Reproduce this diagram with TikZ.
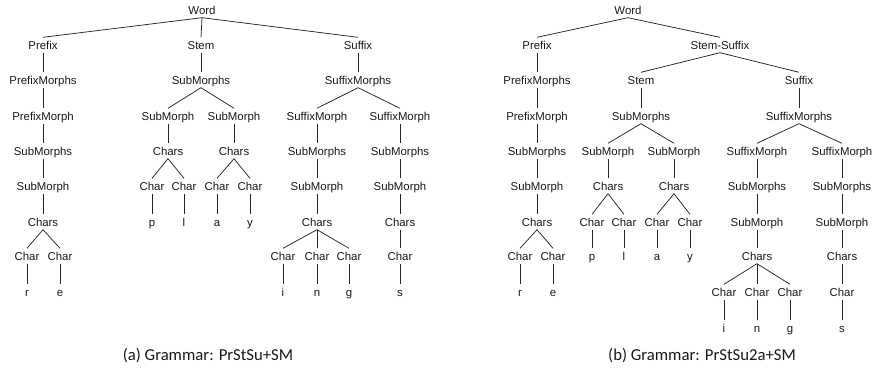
\documentclass[tikz,border=0pt]{standalone}
\usepackage{fontspec}
\setmainfont{Liberation Sans}
\newfontfamily\capfont{Carlito}
\begin{document}
\begin{tikzpicture}[x=1pt,y=-1pt,
  t/.style={font=\fontsize{11.4}{12}\selectfont, text=black!90, inner xsep=0pt, inner ysep=2pt, text height=10pt, text depth=1pt},
  edge/.style={draw=black!85, line width=0.75pt},
  captext/.style={font=\capfont\fontsize{16.7}{18}\selectfont, text=black!90}]
\useasboundingbox (0,0) rectangle (873,383);
\def\La{10}\def\Lb{45}\def\Lc{80}\def\Ld{116}\def\Le{151}\def\Lf{186}\def\Lg{222}\def\Lh{256}\def\Li{292}\def\Lj{328}
% ---------- tree (a)
\node[t] (aW) at (202,\La) {Word};
\node[t] (aPre) at (43,\Lb) {Prefix};
\node[t] (aSt) at (201,\Lb) {Stem};
\node[t] (aSu) at (358,\Lb) {Suffix};
% prefix
\node[t] (aPms) at (43,\Lc) {PrefixMorphs};
\node[t] (aPm) at (43,\Ld) {PrefixMorph};
\node[t] (aPsms) at (43,\Le) {SubMorphs};
\node[t] (aPsm) at (43,\Lf) {SubMorph};
\node[t] (aPcs) at (43,\Lg) {Chars};
\node[t] (aPc1) at (27,\Lh) {Char};
\node[t] (aPc2) at (60,\Lh) {Char};
\node[t] (aR) at (27,\Li) {r};
\node[t] (aE) at (60,\Li) {e};
% stem
\node[t] (aSms) at (201,\Lc) {SubMorphs};
\node[t] (aSm1) at (168,\Ld) {SubMorph};
\node[t] (aSm2) at (234,\Ld) {SubMorph};
\node[t] (aCs1) at (168,\Le) {Chars};
\node[t] (aCs2) at (234,\Le) {Chars};
\node[t] (aC1) at (152,\Lf) {Char};
\node[t] (aC2) at (184,\Lf) {Char};
\node[t] (aC3) at (217,\Lf) {Char};
\node[t] (aC4) at (250,\Lf) {Char};
\node[t] (aP) at (152,\Lg) {p};
\node[t] (aL) at (184,\Lg) {l};
\node[t] (aA) at (217,\Lg) {a};
\node[t] (aY) at (250,\Lg) {y};
% suffix
\node[t] (aSfms) at (358,\Lc) {SuffixMorphs};
\node[t] (aSfm1) at (317,\Ld) {SuffixMorph};
\node[t] (aSfm2) at (400,\Ld) {SuffixMorph};
\node[t] (aSsms1) at (317,\Le) {SubMorphs};
\node[t] (aSsms2) at (400,\Le) {SubMorphs};
\node[t] (aSsm1) at (317,\Lf) {SubMorph};
\node[t] (aSsm2) at (400,\Lf) {SubMorph};
\node[t] (aScs1) at (317,\Lg) {Chars};
\node[t] (aScs2) at (400,\Lg) {Chars};
\node[t] (aSc1) at (283,\Lh) {Char};
\node[t] (aSc2) at (317,\Lh) {Char};
\node[t] (aSc3) at (349,\Lh) {Char};
\node[t] (aSc4) at (400,\Lh) {Char};
\node[t] (aI) at (283,\Li) {i};
\node[t] (aN) at (317,\Li) {n};
\node[t] (aG) at (349,\Li) {g};
\node[t] (aS) at (400,\Li) {s};
\foreach \p/\c in {aW/aPre,aW/aSt,aW/aSu,aPre/aPms,aPms/aPm,aPm/aPsms,aPsms/aPsm,aPsm/aPcs,aPcs/aPc1,aPcs/aPc2,aPc1/aR,aPc2/aE,
  aSt/aSms,aSms/aSm1,aSms/aSm2,aSm1/aCs1,aSm2/aCs2,aCs1/aC1,aCs1/aC2,aCs2/aC3,aCs2/aC4,aC1/aP,aC2/aL,aC3/aA,aC4/aY,
  aSu/aSfms,aSfms/aSfm1,aSfms/aSfm2,aSfm1/aSsms1,aSfm2/aSsms2,aSsms1/aSsm1,aSsms2/aSsm2,aSsm1/aScs1,aSsm2/aScs2,
  aScs1/aSc1,aScs1/aSc2,aScs1/aSc3,aScs2/aSc4,aSc1/aI,aSc2/aN,aSc3/aG,aSc4/aS}
  \draw[edge] (\p.south) -- (\c.north);
\node[captext] (capA) at (208,356) {(a) Grammar: PrStSu+SM};
% ---------- tree (b)
\node[t] (bW) at (628,\La) {Word};
\node[t] (bPre) at (537,\Lb) {Prefix};
\node[t] (bSS) at (720,\Lb) {Stem-Suffix};
\node[t] (bSt) at (641,\Lc) {Stem};
\node[t] (bSu) at (799,\Lc) {Suffix};
% prefix
\node[t] (bPms) at (537,\Lc) {PrefixMorphs};
\node[t] (bPm) at (537,\Ld) {PrefixMorph};
\node[t] (bPsms) at (537,\Le) {SubMorphs};
\node[t] (bPsm) at (537,\Lf) {SubMorph};
\node[t] (bPcs) at (537,\Lg) {Chars};
\node[t] (bPc1) at (520,\Lh) {Char};
\node[t] (bPc2) at (553,\Lh) {Char};
\node[t] (bR) at (520,\Li) {r};
\node[t] (bE) at (553,\Li) {e};
% stem
\node[t] (bSms) at (641,\Ld) {SubMorphs};
\node[t] (bSm1) at (608,\Le) {SubMorph};
\node[t] (bSm2) at (674,\Le) {SubMorph};
\node[t] (bCs1) at (608,\Lf) {Chars};
\node[t] (bCs2) at (674,\Lf) {Chars};
\node[t] (bC1) at (592,\Lg) {Char};
\node[t] (bC2) at (624,\Lg) {Char};
\node[t] (bC3) at (657,\Lg) {Char};
\node[t] (bC4) at (690,\Lg) {Char};
\node[t] (bP) at (592,\Lh) {p};
\node[t] (bL) at (624,\Lh) {l};
\node[t] (bA) at (657,\Lh) {a};
\node[t] (bY) at (690,\Lh) {y};
% suffix
\node[t] (bSfms) at (799,\Ld) {SuffixMorphs};
\node[t] (bSfm1) at (757,\Le) {SuffixMorph};
\node[t] (bSfm2) at (842,\Le) {SuffixMorph};
\node[t] (bSsms1) at (757,\Lf) {SubMorphs};
\node[t] (bSsms2) at (842,\Lf) {SubMorphs};
\node[t] (bSsm1) at (757,\Lg) {SubMorph};
\node[t] (bSsm2) at (842,\Lg) {SubMorph};
\node[t] (bScs1) at (757,\Lh) {Chars};
\node[t] (bScs2) at (842,\Lh) {Chars};
\node[t] (bSc1) at (724,\Li) {Char};
\node[t] (bSc2) at (757,\Li) {Char};
\node[t] (bSc3) at (790,\Li) {Char};
\node[t] (bSc4) at (842,\Li) {Char};
\node[t] (bI) at (724,\Lj) {i};
\node[t] (bN) at (757,\Lj) {n};
\node[t] (bG) at (790,\Lj) {g};
\node[t] (bS) at (842,\Lj) {s};
\foreach \p/\c in {bW/bPre,bW/bSS,bSS/bSt,bSS/bSu,bPre/bPms,bPms/bPm,bPm/bPsms,bPsms/bPsm,bPsm/bPcs,bPcs/bPc1,bPcs/bPc2,bPc1/bR,bPc2/bE,
  bSt/bSms,bSms/bSm1,bSms/bSm2,bSm1/bCs1,bSm2/bCs2,bCs1/bC1,bCs1/bC2,bCs2/bC3,bCs2/bC4,bC1/bP,bC2/bL,bC3/bA,bC4/bY,
  bSu/bSfms,bSfms/bSfm1,bSfms/bSfm2,bSfm1/bSsms1,bSfm2/bSsms2,bSsms1/bSsm1,bSsms2/bSsm2,bSsm1/bScs1,bSsm2/bScs2,
  bScs1/bSc1,bScs1/bSc2,bScs1/bSc3,bScs2/bSc4,bSc1/bI,bSc2/bN,bSc3/bG,bSc4/bS}
  \draw[edge] (\p.south) -- (\c.north);
\node[captext] (capB) at (702,356) {(b) Grammar: PrStSu2a+SM};
\end{tikzpicture}
\end{document}
